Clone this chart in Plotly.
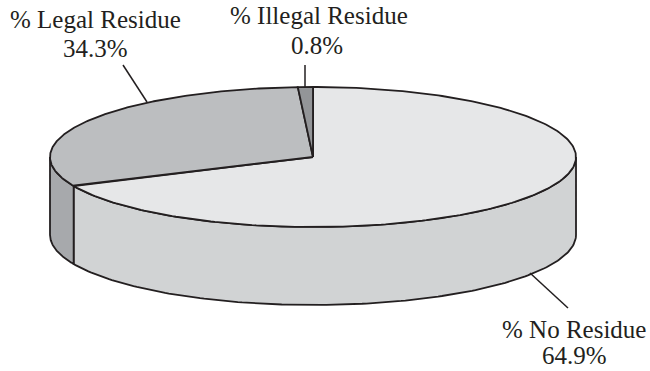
import numpy as np
import plotly.graph_objects as go

# Share of samples in each residue class, clockwise from twelve o'clock
categories = ["% No Residue", "% Legal Residue", "% Illegal Residue"]
shares = [64.9, 34.3, 0.8]
value_labels = ["64.9%", "34.3%", "0.8%"]

top_colors = ["#e6e7e8", "#bcbec0", "#939598"]
side_colors = ["#d1d3d4", "#a7a9ac", "#808285"]
INK = "#231f20"
WIDTH, HEIGHT = 650, 371

# Disc placement on the page
CX, CY, RX, RY, DEPTH = 313.0, 157.0, 263.0, 70.0, 78.0
# Slant of the oblique view, in degrees: it widens wedges on the left of the disc
SLANT_A, SLANT_B = 6.1, 7.3


def view_angle(deg):
    t = np.radians(deg)
    return deg - SLANT_A * np.sin(t) + SLANT_B * np.sin(2 * t)


def rim(deg, drop=0.0):
    t = np.radians(deg)
    return CX + RX * np.sin(t), CY - RY * np.cos(t) + drop


edges = np.concatenate([[0.0], np.cumsum(shares) / sum(shares) * 360.0])
fig = go.Figure()

# Front wall of the cylinder: only the part of each wedge between 90 and 270 degrees shows
for i, name in enumerate(categories):
    start = max(view_angle(edges[i]), 90.0)
    stop = min(view_angle(edges[i + 1]), 270.0)
    if stop <= start:
        continue
    arc = np.linspace(start, stop, 160)
    upper_x, upper_y = rim(arc)
    lower_x, lower_y = rim(arc[::-1], DEPTH)
    fig.add_trace(go.Scatter(
        x=np.concatenate([upper_x, lower_x, upper_x[:1]]),
        y=np.concatenate([upper_y, lower_y, upper_y[:1]]),
        mode="lines", fill="toself", fillcolor=side_colors[i],
        line=dict(color=INK, width=1.8), name=name + " wall",
    ))

# Top face wedges
for i, name in enumerate(categories):
    arc = np.linspace(view_angle(edges[i]), view_angle(edges[i + 1]), 260)
    arc_x, arc_y = rim(arc)
    fig.add_trace(go.Scatter(
        x=np.concatenate([[CX], arc_x, [CX]]),
        y=np.concatenate([[CY], arc_y, [CY]]),
        mode="lines", fill="toself", fillcolor=top_colors[i],
        line=dict(color=INK, width=1.8), name=name,
    ))

# Leader lines running from each label to its wedge
leaders = [((530, 273), (568, 308)), ((123, 65), (147, 102)), ((305, 65), (305, 87))]
for (x0, y0), (x1, y1) in leaders:
    fig.add_shape(type="line", x0=x0, y0=y0, x1=x1, y1=y1,
                  line=dict(color=INK, width=1.5))

# Two-line labels: class name above, share below
title_pos = [(574, 329), (95, 19), (319, 15)]
value_pos = [(574, 355), (95, 48), (317, 45)]
font = dict(family="Liberation Serif", size=25, color=INK)
for i, name in enumerate(categories):
    fig.add_annotation(x=title_pos[i][0], y=title_pos[i][1], text=name,
                       showarrow=False, font=font)
    fig.add_annotation(x=value_pos[i][0], y=value_pos[i][1], text=value_labels[i],
                       showarrow=False, font=font)

fig.update_layout(
    width=WIDTH, height=HEIGHT, margin=dict(l=0, r=0, t=0, b=0),
    paper_bgcolor="white", plot_bgcolor="white", showlegend=False, hovermode=False,
    xaxis=dict(range=[0, WIDTH], visible=False, fixedrange=True),
    yaxis=dict(range=[HEIGHT, 0], visible=False, fixedrange=True),
)
fig.write_html("out.html", config={"displayModeBar": False})
